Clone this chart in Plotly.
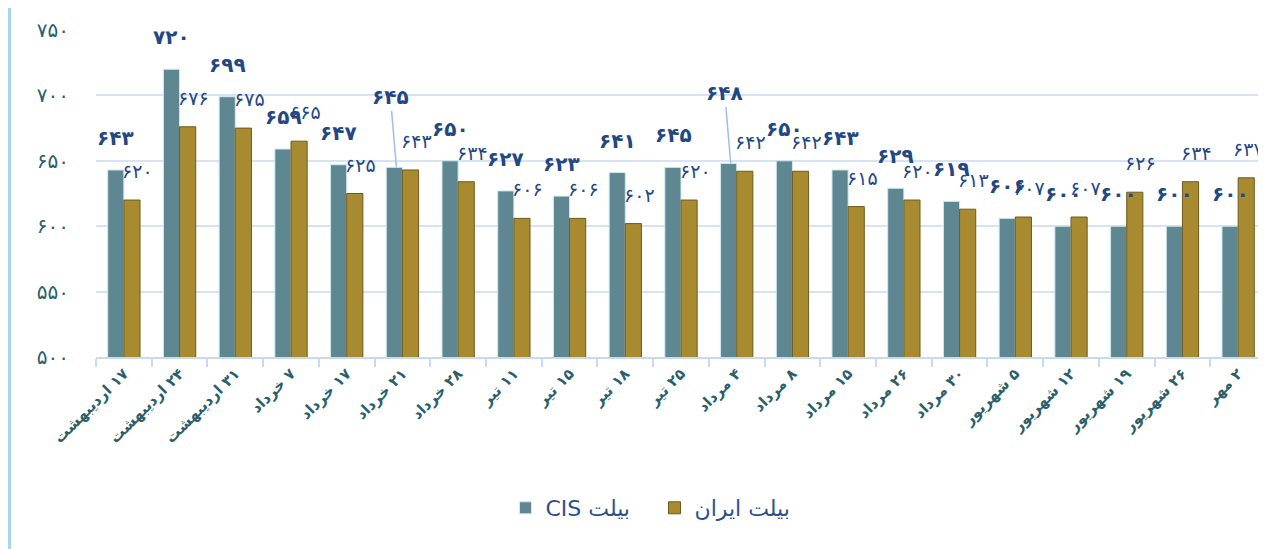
import plotly.graph_objects as go

categories = ["۱۷ اردیبهشت", "۲۴ اردیبهشت", "۳۱ اردیبهشت", "۷ خرداد", "۱۷ خرداد", "۲۱ خرداد",
              "۲۸ خرداد", "۱۱ تیر", "۱۵ تیر", "۱۸ تیر", "۲۵ تیر", "۴ مرداد", "۸ مرداد",
              "۱۵ مرداد", "۲۶ مرداد", "۳۰ مرداد", "۵ شهریور", "۱۲ شهریور", "۱۹ شهریور",
              "۲۶ شهریور", "۲ مهر"]
cis_values = [643, 720, 699, 659, 647, 645, 650, 627, 623, 641, 645, 648, 650, 643, 629, 619, 606, 600, 600, 600, 600]
iran_values = [620, 676, 675, 665, 625, 643, 634, 606, 606, 602, 620, 642, 642, 615, 620, 613, 607, 607, 626, 634, 637]
y_ticks = [500, 550, 600, 650, 700, 750]
series_names = ["بیلت CIS", "بیلت ایران"]

FA = str.maketrans("0123456789", "۰۱۲۳۴۵۶۷۸۹")
def fa(n):
    return str(n).translate(FA)

def rtl(s):
    return "\u202b" + s + "\u202c"

CIS_COLOR = "#5f8791"
IRAN_COLOR = "#a88b30"
LABEL_COLOR = "#234783"
TEAL = "#2b5f6b"
FONT = "DejaVu Sans, Noto Sans, sans-serif"

# page body has an 8px margin, so the figure is sized/offset to compensate
W, H = 1258, 541
L, T, B = 88, 22, 192
plot_h = H - T - B

fig = go.Figure()
fig.add_trace(go.Bar(x=categories, y=cis_values, name=rtl(series_names[0]),
                     marker=dict(color=CIS_COLOR, line=dict(color="#cdebf0", width=1)),
                     offsetgroup="a"))
fig.add_trace(go.Bar(x=categories, y=iran_values, name=rtl(series_names[1]),
                     marker=dict(color=IRAN_COLOR, line=dict(color="#6e5a1c", width=1)),
                     offsetgroup="b"))

annotations = []
leader = {5, 11}
for i, c in enumerate(categories):
    v = cis_values[i]
    if i in leader:
        annotations.append(dict(x=c, y=v, xref="x", yref="y", text="<b>%s</b>" % fa(v),
                                showarrow=True, arrowhead=0, arrowcolor="#9cc0e6", arrowwidth=1.5,
                                ax=-6, ay=-70, xshift=-6,
                                font=dict(color=LABEL_COLOR, size=20, family=FONT)))
    else:
        annotations.append(dict(x=c, y=v, xref="x", yref="y", text="<b>%s</b>" % fa(v),
                                showarrow=False, xshift=-8, yshift=32,
                                font=dict(color=LABEL_COLOR, size=20, family=FONT)))
    w = iran_values[i]
    annotations.append(dict(x=c, y=w, xref="x", yref="y", text=fa(w),
                            showarrow=False, xshift=14 if i < len(categories) - 1 else 10, yshift=29,
                            font=dict(color=LABEL_COLOR, size=19, family=FONT)))

fig.update_layout(
    width=W, height=H,
    margin=dict(l=L, r=0, t=T, b=B, autoexpand=False),
    paper_bgcolor="white", plot_bgcolor="white",
    barmode="group", bargap=0.42, bargroupgap=0.0,
    showlegend=True,
    legend=dict(orientation="h", x=0.350, xanchor="left", y=(T + plot_h - 500) / plot_h,
                yanchor="middle",
                font=dict(color="#2e4f8c", size=22, family=FONT), traceorder="normal",
                itemwidth=30, entrywidth=104, entrywidthmode="pixels"),
    annotations=annotations,
    shapes=[dict(type="line", xref="paper", yref="paper",
                 x0=(1.5 - L) / (W - L), x1=(1.5 - L) / (W - L),
                 y0=-(H - T - plot_h) / plot_h, y1=(T + plot_h) / plot_h,
                 line=dict(color="#a9d6e8", width=3))],
)
fig.update_yaxes(range=[500, 750], tickvals=y_ticks, ticktext=[fa(t) for t in y_ticks],
                 showgrid=True, gridcolor="#d5e3f4", gridwidth=2, zeroline=False,
                 showline=False, ticks="", ticklabelstandoff=26, automargin=False,
                 tickfont=dict(color=TEAL, size=20, family=FONT))
fig.update_xaxes(type="category", tickangle=-45, showline=True, linecolor="#c7daef", linewidth=2,
                 ticks="outside", tickson="boundaries", ticklen=8, tickcolor="#c7daef", tickwidth=2,
                 tickfont=dict(color=TEAL, size=15, family=FONT, weight="bold"), automargin=False,
                 tickmode="array", tickvals=categories, ticktext=[rtl(c) for c in categories],
                 range=[-0.5, len(categories) - 0.5])

fig.write_html("out.html")
